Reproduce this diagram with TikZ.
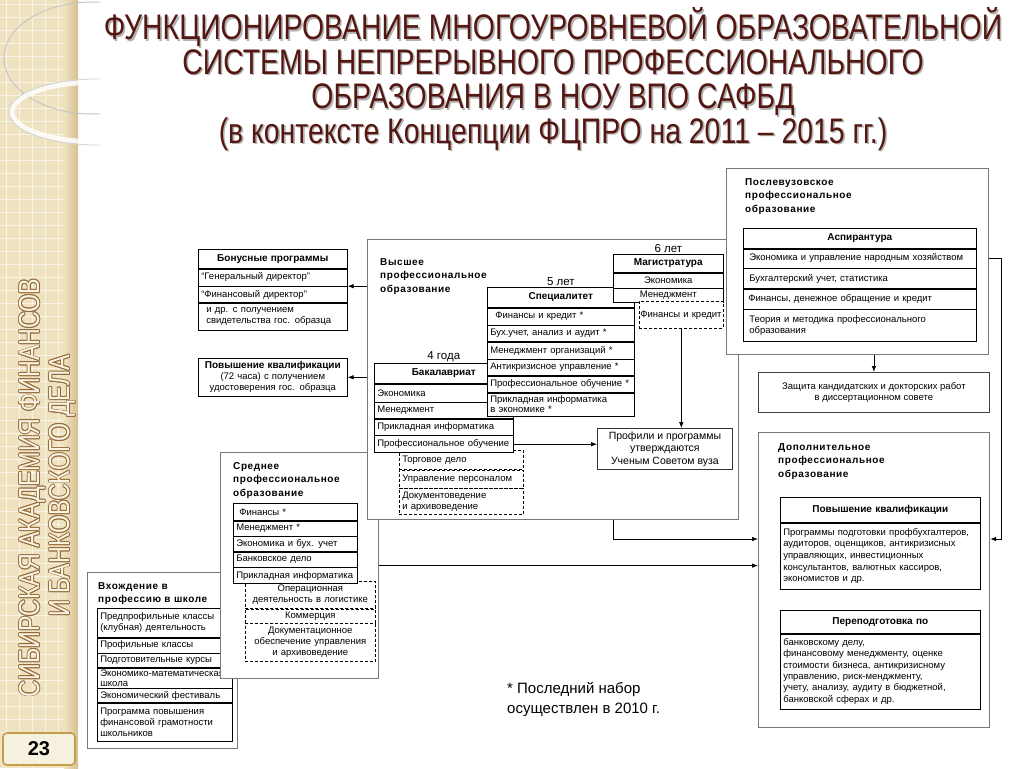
\documentclass[tikz,border=0pt]{standalone}
\usepackage{fontspec}
\setmainfont{Liberation Sans}
\newfontfamily\titlefont[FakeStretch=0.8]{Liberation Sans}
\newfontfamily\labfont[LetterSpace=6]{Liberation Sans}
\usetikzlibrary{arrows.meta, positioning, calc}
\definecolor{titlered}{RGB}{84, 22, 16}
\definecolor{sidebeige}{RGB}{238, 226, 192}
\definecolor{sidetan}{RGB}{214, 192, 146}
\definecolor{sidebrown}{RGB}{150, 105, 55}
\definecolor{framegray}{RGB}{120, 120, 120}
\definecolor{numgold}{RGB}{196, 156, 74}

\begin{document}
\begin{tikzpicture}[x=1pt, y=-1pt,
    every node/.style={font=\fontsize{9.5}{11}\selectfont, inner sep=0pt},
    grp/.style={draw=framegray, line width=1.2pt, fill=white, anchor=north west},
    cell/.style={draw=black, line width=0.6pt, fill=white, anchor=north west, inner xsep=3pt, align=left},
    dcell/.style={cell, dash pattern=on 3pt off 2pt},
    hcell/.style={cell, align=center, font=\fontsize{10}{11}\selectfont\bfseries},
    wd/.code={\pgfmathsetlengthmacro\cellw{#1-6pt}\edef\cellset{\noexpand\tikzset{minimum width=#1, text width=\cellw}}\cellset},
    lab/.style={anchor=north west, align=left, font=\fontsize{10}{13.5}\selectfont\labfont\bfseries},
    yrs/.style={font=\fontsize{11.5}{13}\selectfont, inner sep=1pt},
    sidetxt/.style={rotate=90, font=\fontsize{29}{29}\selectfont\titlefont},
    arr/.style={-{Latex[length=6pt, width=4.5pt]}, line width=0.7pt}
]
\useasboundingbox (0,0) rectangle (1024,768);
\fill[white] (0,0) rectangle (1024,768);

% Sidebar
\fill[sidebeige] (0,0) rectangle (78,768);
\foreach \gx in {6,19,...,78} \draw[white, opacity=.6, line width=0.8pt] (\gx,0) -- (\gx,768);
\foreach \gy in {4,17,...,768} \draw[white, opacity=.6, line width=0.8pt] (0,\gy) -- (78,\gy);
\shade[left color=sidebeige, right color=sidetan] (64,0) rectangle (78,768);
\begin{scope}
  \clip (0,0) rectangle (100,260);
  \draw[gray!45, line width=1pt] (92,58) ellipse [x radius=88, y radius=56];
  \draw[white, line width=5pt, opacity=.85] (98,112) ellipse [x radius=86, y radius=30];
  \draw[gray!35, line width=0.8pt] (98,112) ellipse [x radius=89, y radius=33];
\end{scope}
\foreach \dx/\dy in {-0.9/0,0.9/0,0/-0.9,0/0.9,-0.7/-0.7,0.7/0.7,-0.7/0.7,0.7/-0.7} {
  \node[sidetxt, text=sidebrown] at (32+\dx,488+\dy) {СИБИРСКАЯ АКАДЕМИЯ ФИНАНСОВ};
  \node[sidetxt, text=sidebrown] at (62+\dx,486+\dy) {И БАНКОВСКОГО ДЕЛА};
}
\node[sidetxt, text=sidebeige!40!white] (side1) at (32,488) {СИБИРСКАЯ АКАДЕМИЯ ФИНАНСОВ};
\node[sidetxt, text=sidebeige!40!white] (side2) at (62,486) {И БАНКОВСКОГО ДЕЛА};
\node[draw=numgold, line width=1.6pt, rounded corners=4pt, fill=sidebeige!50!white, minimum width=72pt, minimum height=32pt, font=\fontsize{20}{20}\selectfont\bfseries] (pagenum) at (39,749) {23};

% Title
\node[align=center, text=gray!60, font=\fontsize{35.5}{34.5}\selectfont\titlefont] (titleshadow) at (554.6,80.6) {ФУНКЦИОНИРОВАНИЕ МНОГОУРОВНЕВОЙ ОБРАЗОВАТЕЛЬНОЙ\\СИСТЕМЫ НЕПРЕРЫВНОГО ПРОФЕССИОНАЛЬНОГО\\ОБРАЗОВАНИЯ В НОУ ВПО САФБД\\(в контексте Концепции ФЦПРО на 2011 – 2015 гг.)};
\node[align=center, text=titlered, font=\fontsize{35.5}{34.5}\selectfont\titlefont] (title) at (553,79) {ФУНКЦИОНИРОВАНИЕ МНОГОУРОВНЕВОЙ ОБРАЗОВАТЕЛЬНОЙ\\СИСТЕМЫ НЕПРЕРЫВНОГО ПРОФЕССИОНАЛЬНОГО\\ОБРАЗОВАНИЯ В НОУ ВПО САФБД\\(в контексте Концепции ФЦПРО на 2011 – 2015 гг.)};

% School
\node[grp, minimum width=150pt, minimum height=176pt] (vsh) at (87,572) {};
\node[lab] (vshlab) at (98,582) {Вхождение в\\профессию в школе};
\node[cell, wd=135pt, minimum height=29pt] (vsh1) at (97,608) {Предпрофильные классы\\(клубная) деятельность};
\node[cell, wd=135pt, minimum height=15pt] (vsh2) at (vsh1.south west) {Профильные классы};
\node[cell, wd=135pt, minimum height=14pt] (vsh3) at (vsh2.south west) {Подготовительные курсы};
\node[cell, wd=135pt, minimum height=20pt, font=\fontsize{9.5}{9.5}\selectfont] (vsh4) at (vsh3.south west) {Экономико-математическая\\школа};
\node[cell, wd=135pt, minimum height=14pt] (vsh5) at (vsh4.south west) {Экономический фестиваль};
\node[cell, wd=135pt, minimum height=38pt] (vsh6) at (vsh5.south west) {Программа повышения\\финансовой грамотности\\школьников};

% Secondary vocational
\node[grp, minimum width=158pt, minimum height=226pt] (spo) at (220,452) {};
\node[lab] (spolab) at (233,462) {Среднее\\профессиональное\\образование};
\node[dcell, wd=130pt, minimum height=27pt, align=center] (spod1) at (245,581) {Операционная\\деятельность в логистике};
\node[dcell, wd=130pt, minimum height=14pt, align=center] (spod2) at (spod1.south west) {Коммерция};
\node[dcell, wd=130pt, minimum height=38pt, align=center] (spod3) at (spod2.south west) {Документационное\\обеспечение управления\\и архивоведение};
\node[cell, wd=124pt, minimum height=17pt, inner xsep=2pt] (spo1) at (233,503) {\hspace{3pt}Финансы *};
\node[cell, wd=124pt, minimum height=15pt, inner xsep=2pt] (spo2) at (spo1.south west) {Менеджмент *};
\node[cell, wd=124pt, minimum height=15pt, inner xsep=2pt] (spo3) at (spo2.south west) {Экономика и бух. учет};
\node[cell, wd=124pt, minimum height=15pt, inner xsep=2pt] (spo4) at (spo3.south west) {Банковское дело};
\node[cell, wd=124pt, minimum height=16pt, inner xsep=2pt] (spo5) at (spo4.south west) {Прикладная информатика};

% Higher education
\node[grp, minimum width=371pt, minimum height=280pt] (vpo) at (367,239) {};
\node[lab] (vpolab) at (380,258) {Высшее\\профессиональное\\образование};
\node[dcell, wd=124pt, minimum height=19pt] (bakd1) at (399,450) {Торговое дело};
\node[dcell, wd=124pt, minimum height=18pt] (bakd2) at (bakd1.south west) {Управление персоналом};
\node[dcell, wd=124pt, minimum height=26pt] (bakd3) at (bakd2.south west) {Документоведение\\и архивоведение};
\node[hcell, wd=139pt, minimum height=20pt] (bak0) at (374,363) {Бакалавриат};
\node[cell, wd=139pt, minimum height=18pt] (bak1) at (bak0.south west) {Экономика};
\node[cell, wd=139pt, minimum height=16pt] (bak2) at (bak1.south west) {Менеджмент};
\node[cell, wd=139pt, minimum height=16pt] (bak3) at (bak2.south west) {Прикладная информатика};
\node[cell, wd=139pt, minimum height=17pt] (bak4) at (bak3.south west) {Профессиональное обучение};
\node[yrs, above=0pt of bak0] (bakyrs) {4 года};
\node[hcell, wd=147pt, minimum height=20pt] (spe0) at (487,287) {Специалитет};
\node[cell, wd=147pt, minimum height=17pt] (spe1) at (spe0.south west) {\hspace{5pt}Финансы и кредит *};
\node[cell, wd=147pt, minimum height=16pt] (spe2) at (spe1.south west) {Бух.учет, анализ и аудит *};
\node[cell, wd=147pt, minimum height=17pt] (spe3) at (spe2.south west) {Менеджмент организаций *};
\node[cell, wd=147pt, minimum height=16pt] (spe4) at (spe3.south west) {Антикризисное управление *};
\node[cell, wd=147pt, minimum height=16pt] (spe5) at (spe4.south west) {Профессиональное обучение *};
\node[cell, wd=147pt, minimum height=23pt, font=\fontsize{9.5}{10}\selectfont] (spe6) at (spe5.south west) {Прикладная информатика\\в экономике *};
\node[yrs, above=0pt of spe0] (speyrs) {5 лет};
\node[hcell, wd=110pt, minimum height=18pt] (mag0) at (613,254) {Магистратура};
\node[cell, wd=110pt, minimum height=15pt, align=center] (mag1) at (mag0.south west) {Экономика};
\node[cell, wd=110pt, minimum height=14pt, align=center] (mag2) at (mag1.south west) {Менеджмент};
\node[yrs, above=0pt of mag0] (magyrs) {6 лет};
\node[cell, dash pattern=on 3pt off 2pt, minimum width=84pt, text width=84pt, minimum height=27pt, inner xsep=0pt] (magf) at (639,301) {\hspace{1pt}Финансы и кредит\\[8pt]};
\node[draw=black!80, line width=0.8pt, fill=white, anchor=north west, minimum width=135pt, minimum height=41pt, align=center, font=\fontsize{10.5}{12.5}\selectfont] (prof) at (597,428) {Профили и программы\\утверждаются\\Ученым Советом вуза};

% Postgraduate
\node[grp, minimum width=262pt, minimum height=186pt] (pg) at (726,168) {};
\node[lab] (pglab) at (745,178) {Послевузовское\\профессиональное\\образование};
\node[hcell, wd=233pt, minimum height=20pt] (asp0) at (743,228) {Аспирантура};
\node[cell, wd=233pt, minimum height=19pt] (asp1) at (asp0.south west) {\hspace{3pt}Экономика и управление народным хозяйством};
\node[cell, wd=233pt, minimum height=20pt] (asp2) at (asp1.south west) {\hspace{3pt}Бухгалтерский учет, статистика};
\node[cell, wd=233pt, minimum height=20pt] (asp3) at (asp2.south west) {\hspace{2pt}Финансы, денежное обращение и кредит};
\node[cell, wd=233pt, minimum height=32pt] (asp4) at (asp3.south west) {\hspace{3pt}Теория и методика профессионального\\\hspace{3pt}образования};

% Bonus programs and short courses
\node[hcell, wd=149pt, minimum height=19pt] (bon0) at (198,249) {Бонусные программы};
\node[cell, wd=149pt, minimum height=17pt] (bon1) at (bon0.south west) {“Генеральный директор”};
\node[cell, wd=149pt, minimum height=16pt] (bon2) at (bon1.south west) {“Финансовый директор”};
\node[cell, wd=149pt, minimum height=27pt] (bon3) at (bon2.south west) {\hspace{5pt}и др. с получением\\\hspace{5pt}свидетельства гос. образца};
\node[cell, wd=149pt, minimum height=38pt, align=center] (pkl) at (198,358) {{\fontsize{10}{12}\selectfont\bfseries Повышение квалификации}\\(72 часа) с получением\\удостоверения гос. образца};

% Defense and additional education
\node[draw=black!75, line width=0.8pt, fill=white, anchor=north west, minimum width=231pt, minimum height=40pt, align=center] (zash) at (758,372) {Защита кандидатских и докторских работ\\в диссертационном совете};
\node[grp, minimum width=231pt, minimum height=295pt] (dop) at (758,432) {};
\node[lab] (doplab) at (778,443) {Дополнительное\\профессиональное\\образование};
\node[hcell, wd=200pt, minimum height=25pt] (dpk0) at (780,497) {Повышение квалификации};
\node[cell, wd=200pt, minimum height=66pt, font=\fontsize{9.5}{11.6}\selectfont] (dpk1) at (dpk0.south west) {Программы подготовки профбухгалтеров,\\аудиторов, оценщиков, антикризисных\\управляющих, инвестиционных\\консультантов, валютных кассиров,\\экономистов и др.};
\node[hcell, wd=200pt, minimum height=23pt] (dpp0) at (780,610) {Переподготовка по};
\node[cell, wd=200pt, minimum height=75pt, font=\fontsize{9.5}{11.3}\selectfont] (dpp1) at (dpp0.south west) {банковскому делу,\\финансовому менеджменту, оценке\\стоимости бизнеса, антикризисному\\управлению, риск-менджменту,\\учету, анализу, аудиту в бюджетной,\\банковской сферах и др.};

% Footnote
\node[anchor=north west, align=left, font=\fontsize{15}{20}\selectfont] (note) at (507,682) {* Последний набор\\осуществлен в 2010 г.};

% Connectors
\coordinate (dopin1) at (758,539);
\draw[arr] (vpo.west |- bon2.north) -- (bon2.north east);
\draw[arr] (vpo.west |- pkl.east) -- (pkl.east);
\draw[arr] (magf.south) -- (magf.south |- prof.north);
\draw[arr] (bak4.east) -- (bak4.east -| prof.west);
\draw[arr] (vpo.south -| mag0.west) |- (dopin1);
\draw[arr] (spo.east) -- (spo.east -| dop.west);
\draw[arr] (pg.south -| zash.north) -- (zash.north);
\draw[arr] (pg.east |- asp1.east) -- ++(12,0) |- (dop.east |- dopin1);

\end{tikzpicture}
\end{document}
